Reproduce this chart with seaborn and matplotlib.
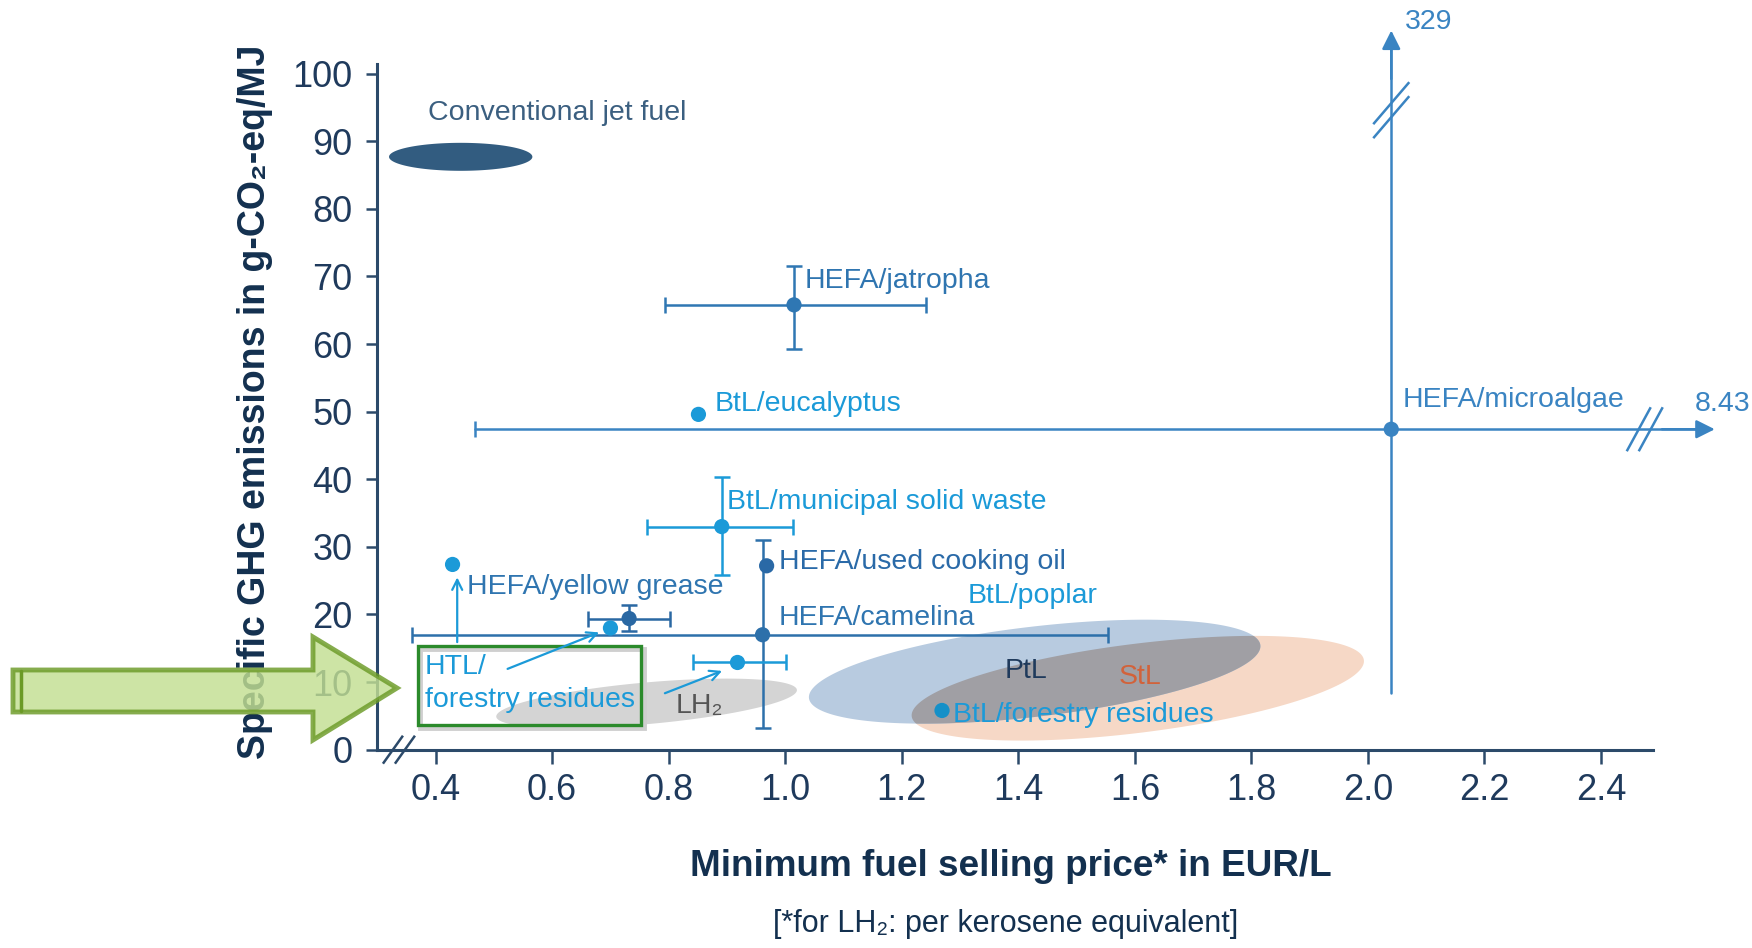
import numpy as np
import matplotlib
matplotlib.use("Agg")
import matplotlib.pyplot as plt
from matplotlib.patches import Polygon, Rectangle
import seaborn as sns

# ---- values ----
point_names = ["HEFA/jatropha", "BtL/eucalyptus", "BtL/municipal solid waste",
               "HEFA/used cooking oil", "HEFA/camelina", "HEFA/yellow grease",
               "HTL a", "HTL b", "HTL c", "BtL/forestry residues", "HEFA/microalgae"]
point_x = [1.015, 0.851, 0.891, 0.968, 0.961, 0.732, 0.429, 0.700, 0.918, 1.269, 2.04]
point_y = [65.8, 49.6, 33.0, 27.2, 17.0, 19.4, 27.4, 18.0, 12.9, 5.8, 47.4]
x_low = [0.793, np.nan, 0.762, np.nan, 0.359, 0.662, np.nan, np.nan, 0.842, np.nan, 0.467]
x_high = [1.242, np.nan, 1.014, np.nan, 1.554, 0.802, np.nan, np.nan, 1.002, np.nan, 8.43]
y_low = [59.3, np.nan, 25.9, np.nan, 3.2, 17.5, np.nan, np.nan, np.nan, np.nan, 8.4]
y_high = [71.6, np.nan, 40.3, np.nan, 31.0, 21.4, np.nan, np.nan, np.nan, np.nan, 329]
point_colors = ["#2f77b3", "#1b9ad8", "#1b9ad8", "#2a69a6", "#2d70aa", "#2a68a3",
                "#1b9ad8", "#1b9ad8", "#1b9ad8", "#1590c8", "#3a84c2"]

# broken-axis display positions for the two off-scale microalgae values
micro_x_shown = 2.60
micro_y_shown = 106.8

# ellipses: centre, half-axes (x units / y units), tilt in degrees
ell_names = ["Conventional jet fuel", "LH2", "StL", "PtL"]
ell_cx = [0.443, 0.762, 1.605, 1.428]
ell_cy = [87.7, 6.86, 9.09, 11.54]
ell_rx = [0.123, 0.259, 0.391, 0.390]
ell_ry = [2.07, 3.08, 6.58, 6.66]
ell_angle = [0.0, 5.1, 7.1, 6.7]
ell_colors = ["#325c80", "#d4d4d4", "#f6d8c6", "#b8cbe0"]

x_ticks = [0.4, 0.6, 0.8, 1.0, 1.2, 1.4, 1.6, 1.8, 2.0, 2.2, 2.4]
x_ticklabels = ["0.4", "0.6", "0.8", "1.0", "1.2", "1.4", "1.6", "1.8", "2.0", "2.2", "2.4"]
y_ticks = [0, 10, 20, 30, 40, 50, 60, 70, 80, 90, 100]

# text labels: text, x, y, colour
label_text = ["Conventional jet fuel", "HEFA/jatropha", "BtL/eucalyptus", "HEFA/microalgae",
              "BtL/municipal solid waste", "HEFA/used cooking oil", "HEFA/yellow grease",
              "BtL/poplar", "HEFA/camelina", "PtL", "StL", "BtL/forestry residues",
              "LH\u2082", "HTL/", "forestry residues", "329", "8.43"]
label_x = [0.387, 1.033, 0.879, 2.059, 0.900, 0.989, 0.454, 1.313, 0.989, 1.376,
           1.572, 1.288, 0.812, 0.381, 0.381, 2.064, 2.561]
label_y = [94.2, 69.4, 51.1, 51.7, 36.7, 27.8, 24.1, 22.8, 19.5, 11.6, 10.7, 5.1,
           6.4, 12.2, 7.3, 107.6, 51.1]
label_color = ["#3b5f80", "#2f75b0", "#1b9ad8", "#3a84c2", "#1b9ad8", "#2a6aa8", "#2f75b0",
               "#1b9ad8", "#2f75b0", "#1f3a5c", "#d2623a", "#1b9ad8", "#555555",
               "#1b9ad8", "#1b9ad8", "#3a84c2", "#3a84c2"]

# HTL pointer arrows (start -> end)
htl_start = [(0.437, 15.5), (0.519, 11.8), (0.789, 8.2)]
htl_end = [(0.437, 25.9), (0.685, 17.5), (0.896, 11.8)]

sns.set_style("ticks")
plt.rcParams['font.family'] = ['Liberation Sans', 'DejaVu Sans']

axis_color = "#2c4a6a"
tick_color = "#1f3a5c"
label_size = 20.5

fig = plt.figure(figsize=(17.52, 9.48), dpi=100)
ax = fig.add_axes([0.2154, 0.2092, 0.7849, 0.7844])
ax.set_xlim(0.30, 2.66)
ax.set_ylim(0, 110)

# pixel scale of the data axes, used for the tilted ellipses and break marks
p0 = ax.transData.transform((0, 0))
sx = ax.transData.transform((1, 0))[0] - p0[0]
sy = ax.transData.transform((0, 1))[1] - p0[1]


def ellipse_points(cx, cy, rx, ry, ang):
    t = np.linspace(0, 2 * np.pi, 240)
    a, b = rx * sx, ry * sy
    th = np.deg2rad(ang)
    u, v = a * np.cos(t), b * np.sin(t)
    px = u * np.cos(th) - v * np.sin(th)
    py = u * np.sin(th) + v * np.cos(th)
    return np.column_stack([cx + px / sx, cy + py / sy])


patches = {}
for n, cx, cy, rx, ry, an, c in zip(ell_names, ell_cx, ell_cy, ell_rx, ell_ry, ell_angle, ell_colors):
    p = Polygon(ellipse_points(cx, cy, rx, ry, an), closed=True, facecolor=c,
                edgecolor="none", zorder=1)
    ax.add_patch(p)
    patches[n] = p
# darker overlap of PtL and StL
i_ptl = ell_names.index("PtL")
ov = Polygon(ellipse_points(ell_cx[i_ptl], ell_cy[i_ptl], ell_rx[i_ptl], ell_ry[i_ptl],
                            ell_angle[i_ptl]), closed=True, facecolor="#a09fa4",
             edgecolor="none", zorder=1.5)
ax.add_patch(ov)
ov.set_clip_path(patches["StL"])

# error bars
for x, y, xl, xh, yl, yh, c, n in zip(point_x, point_y, x_low, x_high, y_low, y_high,
                                       point_colors, point_names):
    if n == "HEFA/microalgae":
        continue
    xe = None if np.isnan(xl) else [[x - xl], [xh - x]]
    ye = None if np.isnan(yl) else [[y - yl], [yh - y]]
    if xe is None and ye is None:
        continue
    ax.errorbar(x, y, xerr=xe, yerr=ye, fmt="none", ecolor=c, elinewidth=1.8,
                capsize=6, capthick=1.8, zorder=3)

# microalgae: ranges run off the chart, drawn with breaks and arrows
im = point_names.index("HEFA/microalgae")
mx, my, mc = point_x[im], point_y[im], point_colors[im]
ax.plot([x_low[im], micro_x_shown - 0.02], [my, my], color=mc, lw=1.8, zorder=3)
ax.plot([x_low[im]], [my], marker="|", ms=12, mew=1.8, color=mc, zorder=3)
ax.plot([mx, mx], [y_low[im], micro_y_shown - 2], color=mc, lw=1.8, zorder=3)
ax.annotate("", xy=(micro_x_shown, my), xytext=(micro_x_shown - 0.1, my),
            arrowprops=dict(arrowstyle="-|>", color=mc, lw=1.8, mutation_scale=28), zorder=3)
ax.annotate("", xy=(mx, micro_y_shown), xytext=(mx, micro_y_shown - 8),
            arrowprops=dict(arrowstyle="-|>", color=mc, lw=1.8, mutation_scale=28), zorder=3)


def break_marks(x, y, dxp, dyp, offx, offy, color, lw):
    for k in (-1, 1):
        ox, oy = k * offx / sx, k * offy / sy
        ax.plot([x - dxp / sx + ox, x + dxp / sx + ox], [y - dyp / sy + oy, y + dyp / sy + oy],
                color=color, lw=lw, clip_on=False, zorder=6, solid_capstyle="butt")


break_marks(mx, 94.6, 18, 21, 0, 7, mc, 1.8)
break_marks(2.475, my, 12, 22, 6, 0, mc, 1.8)
break_marks(0.337, 0.0, 10, 14, 6, 0, axis_color, 1.8)

# points
sns.scatterplot(x=point_x, y=point_y, hue=point_names,
                palette=dict(zip(point_names, point_colors)), s=120, linewidth=0,
                legend=False, ax=ax, zorder=5)

# HTL arrows
for s, e in zip(htl_start, htl_end):
    ax.annotate("", xy=e, xytext=s,
                arrowprops=dict(arrowstyle="->", color="#1b9ad8", lw=1.6, mutation_scale=18),
                zorder=4)

# green box around HTL label (with a soft shadow)
ax.add_patch(Rectangle((0.373, 3.25), 0.384, 11.65, facecolor="none", edgecolor="#cfcfcf",
                       lw=3.5, zorder=3.4))
ax.add_patch(Rectangle((0.369, 3.65), 0.384, 11.65, facecolor="none", edgecolor="#2b8a2b",
                       lw=2.4, zorder=3.5))

# texts
for t, x, y, c in zip(label_text, label_x, label_y, label_color):
    ax.text(x, y, t, color=c, fontsize=label_size, ha="left", va="center", zorder=6)

# axes styling
for s in ("top", "right"):
    ax.spines[s].set_visible(False)
for s in ("left", "bottom"):
    ax.spines[s].set_color(axis_color)
    ax.spines[s].set_linewidth(2.2)
ax.spines["left"].set_bounds(0, 101.5)
ax.spines["bottom"].set_bounds(0.30, 2.49)
ax.set_xticks(x_ticks)
ax.set_xticklabels(x_ticklabels)
ax.set_yticks(y_ticks)
ax.tick_params(axis="x", length=10, width=1.8, color=axis_color, labelcolor=tick_color,
               labelsize=26, pad=7)
ax.tick_params(axis="y", length=8, width=1.8, color=axis_color, labelcolor=tick_color,
               labelsize=26, pad=10)
ax.set_facecolor("white")

fig.text(254.7 / 1752, 1 - 402 / 948, "Specific GHG emissions in g-CO\u2082-eq/MJ",
         rotation=90, ha="center", va="center", fontsize=27, fontweight="bold", color="#13304f")
fig.text(1011 / 1752, 1 - 867 / 948, "Minimum fuel selling price* in EUR/L",
         ha="center", va="center", fontsize=26.6, fontweight="bold", color="#13304f")
fig.text(1005.6 / 1752, 1 - 924 / 948, "[*for LH\u2082: per kerosene equivalent]",
         ha="center", va="center", fontsize=22, color="#13304f")

# big green pointer arrow (overlay, figure pixels)
W, H = 1752.0, 948.0
arrow_px = [(13, 670), (313, 670), (313, 637), (397, 688), (313, 740), (313, 712), (13, 712)]
fig.add_artist(Polygon([(x / W, 1 - y / H) for x, y in arrow_px], closed=True,
                       transform=fig.transFigure, facecolor="#c3df92", alpha=0.82,
                       edgecolor="#6b9a26", lw=3.5, zorder=10))
fig.add_artist(plt.Line2D([21 / W, 21 / W], [1 - 671 / H, 1 - 711 / H],
                          transform=fig.transFigure, color="#6b9a26", lw=2.5, zorder=11))

fig.savefig("out.png", dpi=100, facecolor="white")
